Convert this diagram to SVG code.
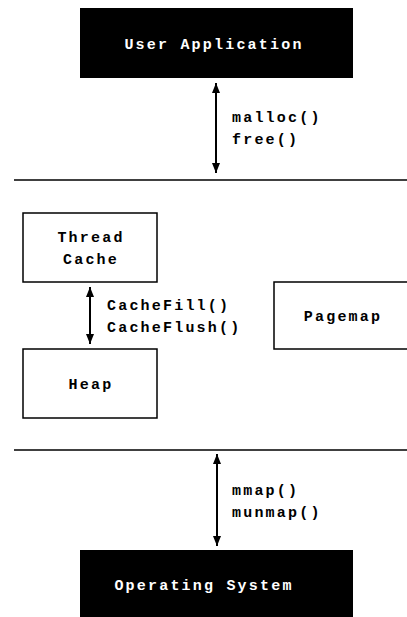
<svg xmlns="http://www.w3.org/2000/svg" width="407" height="617" viewBox="0 0 407 617">
  <style>
    text { font-family: "Liberation Mono", "Courier New", monospace; font-weight: bold; font-size: 15px; letter-spacing: 2.2px; }
    .dark { fill: #000; }
    .dark-label { fill: #fff; text-anchor: middle; }
    .box { fill: #fff; stroke: #000; stroke-width: 1.5; }
    .box-label { fill: #000; text-anchor: middle; }
    .divider { stroke: #000; stroke-width: 1.6; }
    .link { stroke: #000; stroke-width: 2; fill: none; marker-start: url(#head); marker-end: url(#head); }
    .call { fill: #000; }
  </style>
  <defs>
    <marker id="head" viewBox="0 0 10 8" refX="10" refY="4" markerWidth="5" markerHeight="4" orient="auto-start-reverse" markerUnits="strokeWidth">
      <path d="M0,0 L10,4 L0,8 Z" fill="#000"/>
    </marker>
  </defs>
  <rect width="407" height="617" fill="#fff"/>

  <!-- layer boundaries -->
  <line class="divider" x1="14" y1="180" x2="407" y2="180"/>
  <line class="divider" x1="14" y1="450" x2="407" y2="450"/>

  <g id="user-application">
    <rect class="dark" x="80" y="8" width="273" height="70"/>
    <text class="dark-label" x="214" y="49">User Application</text>
  </g>

  <g id="thread-cache">
    <rect class="box" x="23" y="213" width="134" height="69"/>
    <text class="box-label" x="91" y="242">Thread</text>
    <text class="box-label" x="91" y="264">Cache</text>
  </g>

  <g id="heap">
    <rect class="box" x="23" y="349" width="134" height="69"/>
    <text class="box-label" x="91" y="389">Heap</text>
  </g>

  <g id="pagemap">
    <rect class="box" x="274" y="282" width="140" height="67"/>
    <text class="box-label" x="343" y="321">Pagemap</text>
  </g>

  <g id="operating-system">
    <rect class="dark" x="80" y="550" width="273" height="70"/>
    <text class="dark-label" x="204" y="590">Operating System</text>
  </g>

  <g id="connectors">
    <line class="link" x1="216" y1="83" x2="216" y2="173"/>
    <text class="call" x="232" y="122">malloc()</text>
    <text class="call" x="232" y="144">free()</text>

    <line class="link" x1="90" y1="287" x2="90" y2="344"/>
    <text class="call" x="107" y="310">CacheFill()</text>
    <text class="call" x="107" y="332">CacheFlush()</text>

    <line class="link" x1="217" y1="454" x2="217" y2="546"/>
    <text class="call" x="232" y="495">mmap()</text>
    <text class="call" x="232" y="517">munmap()</text>
  </g>
</svg>
